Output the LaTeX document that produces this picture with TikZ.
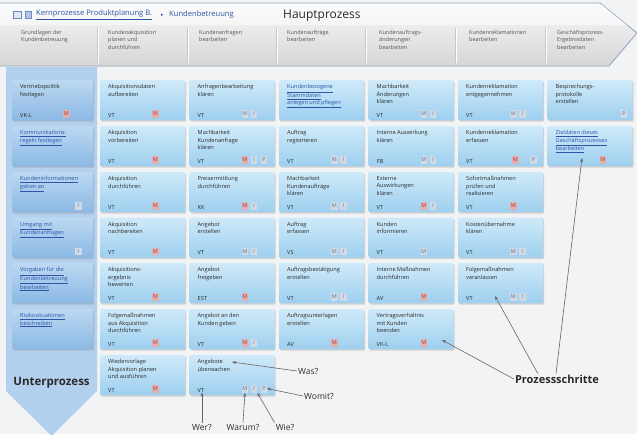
\documentclass[tikz,border=0pt]{standalone}
\usepackage{fontspec}
\setmainfont{Open Sans}
\newfontfamily\symfont{DejaVu Sans}
\newcommand\lnk[1]{\underline{#1}}
\usetikzlibrary{calc,shadows,arrows.meta}
\definecolor{bgc}{HTML}{F1F3F5}
\definecolor{boxT}{HTML}{CFEAF9}
\definecolor{boxB}{HTML}{9DCFEF}
\definecolor{lboxT}{HTML}{BCD8F2}
\definecolor{lboxB}{HTML}{8BB9E4}
\definecolor{arrowc}{HTML}{B3D0EE}
\definecolor{hdrT}{HTML}{F8F8F8}
\definecolor{hdrB}{HTML}{D6D6D6}
\definecolor{hdrline}{HTML}{8FA2BC}
\definecolor{txtc}{HTML}{2A2A2A}
\definecolor{htxtc}{HTML}{555555}
\definecolor{linkc}{HTML}{2E56A8}
\definecolor{mred}{HTML}{E5AFAF}
\definecolor{mredt}{HTML}{A83A3A}
\definecolor{igrey}{HTML}{D0D9E4}
\definecolor{igreyt}{HTML}{6E7390}
\definecolor{arrc}{HTML}{6E6262}
\newcommand\mkbox[6]{\node[#2] (#1) at (#3,#4) {};
  \node[#5] (#1t) at ($(#1.north west)+(8,4.5)$) {#6};}
\newcommand\mkrole[2]{\node[prole] (#1r) at ($(#1.south west)+(8,-3)$) {#2};}
\newcommand\mkicon[4]{\node[#3] (#1#2) at ($(#1.south west)+(#4,-2.5)$) {#2};}
\begin{document}
\begin{tikzpicture}[x=1pt,y=-1pt,
  pbox/.style={draw=none, anchor=north west, minimum width=85pt, minimum height=40pt,
    inner sep=0pt, top color=boxT, bottom color=boxB, rounded corners=1pt,
    drop shadow={opacity=0.3, shadow xshift=0.9pt, shadow yshift=-1.3pt}},
  lbox/.style={pbox, minimum width=81pt, top color=lboxT, bottom color=lboxB},
  ptxt/.style={anchor=north west, inner sep=0pt, align=left, text=txtc,
    font=\fontsize{5.6}{7.2}\selectfont},
  plink/.style={ptxt, text=linkc},
  prole/.style={anchor=south west, inner sep=0pt, text=txtc, font=\fontsize{5.6}{6}\selectfont},
  icR/.style={anchor=south west, inner sep=0pt, minimum width=6.5pt, minimum height=7.5pt,
    fill=mred, text=mredt, font=\fontsize{5.5}{6}\selectfont},
  icG/.style={icR, fill=igrey, text=igreyt},
  icI/.style={icG, font=\fontsize{5.5}{6}\selectfont\itshape},
  htxt/.style={anchor=north west, inner sep=0pt, align=left, text=htxtc,
    font=\fontsize{5.5}{7.4}\selectfont},
  anno/.style={inner sep=1pt, text=txtc, font=\fontsize{8.5}{10}\selectfont},
  big/.style={inner sep=1pt, text=txtc, font=\fontsize{11.5}{13}\selectfont\bfseries},
  arr/.style={draw=arrc, line width=0.6pt, -{Stealth[length=4pt,width=3pt]}}
]
\useasboundingbox (0,0) rectangle (637,434);
\fill[bgc] (0,0) rectangle (637,434);
% header chevron
\path[draw=hdrline, line width=0.8pt, top color=hdrT, bottom color=hdrB]
  (-1,3) -- (600,3) -- (637,33) -- (609,66) -- (-1,66) -- cycle;
\fill[white, opacity=0.5] (0,4) -- (601,4) -- (627,25) -- (0,25) -- cycle;
\foreach \sx in {97,187,276,365,455,545}{
  \draw[black!22, line width=0.6pt] (\sx,28) -- (\sx,63);
  \draw[white, line width=0.6pt] (\sx+0.8,28) -- (\sx+0.8,63);}
% breadcrumb
\node[draw=linkc!70, fill=linkc!15, minimum width=8pt, minimum height=7pt, inner sep=0pt] (ic1) at (17,15) {};
\node[draw=linkc!70, fill=linkc!35, minimum width=6pt, minimum height=7pt, inner sep=0pt] (ic2) at (28,15) {};
\node[anchor=west, inner sep=0pt, text=linkc, font=\fontsize{7.6}{8}\selectfont] (crumb1) at (36,15) {\lnk{Kernprozesse Produktplanung B.}};
\node[anchor=west, inner sep=0pt, text=linkc, font=\fontsize{5}{6}\symfont] (crumbsep) at (161,15) {▸};
\node[anchor=west, inner sep=0pt, text=linkc, font=\fontsize{7.6}{8}\selectfont] (crumb2) at (169,15) {Kundenbetreuung};
\node[anchor=west, inner sep=0pt, text=txtc, font=\fontsize{12}{14}\selectfont] (hp) at (283,16) {Hauptprozess};
% column headers
\node[htxt] (h1) at (21,30) {Grundlagen der\\Kundenbetreuung};
\node[htxt] (h2) at (108,30) {Kundenakquisition\\planen und\\durchführen};
\node[htxt] (h3) at (199,30) {Kundenanfragen\\bearbeiten};
\node[htxt] (h4) at (287,30) {Kundenaufträge\\bearbeiten};
\node[htxt] (h5) at (379,30) {Kundenauftrags-\\änderungen\\bearbeiten};
\node[htxt] (h6) at (469,30) {Kundenreklamationen\\bearbeiten};
\node[htxt] (h7) at (557,30) {Geschäftsprozess-\\Ergebnisdaten\\bearbeiten};
% left arrow
\path[fill=arrowc] (6,67) -- (97,67) -- (97,391) -- (51.5,436) -- (6,391) -- cycle;
\node[big] (unter) at (51.5,383) {Unterprozess};
% left column
\mkbox{L1}{lbox}{12}{80}{ptxt}{Vertriebspolitik\\festlegen}\mkrole{L1}{VK-L}\mkicon{L1}{M}{icR}{51}
\mkbox{L2}{lbox}{12}{126}{plink}{\lnk{Kommunikations-}\\\lnk{regeln festlegen}}
\mkbox{L3}{lbox}{12}{172}{plink}{\lnk{Kundeninformationen}\\\lnk{geben an}}\mkicon{L3}{I}{icI}{63}
\mkbox{L4}{lbox}{12}{217.5}{plink}{\lnk{Umgang mit}\\\lnk{Kundenanfragen}}\mkicon{L4}{I}{icI}{63}
\mkbox{L5}{lbox}{12}{263}{plink}{\lnk{Vorgaben für die}\\\lnk{Kundenbetreuung}\\\lnk{bearbeiten}}
\mkbox{L6}{lbox}{12}{309}{plink}{\lnk{Risikosituationen}\\\lnk{beschreiben}}
% column 2
\mkbox{c2r1}{pbox}{100}{80}{ptxt}{Akquisitionsdaten\\aufbereiten}\mkrole{c2r1}{VT}\mkicon{c2r1}{M}{icR}{52}
\mkbox{c2r2}{pbox}{100}{126}{ptxt}{Akquisition\\vorbereiten}\mkrole{c2r2}{VT}\mkicon{c2r2}{M}{icR}{52}
\mkbox{c2r3}{pbox}{100}{172}{ptxt}{Akquisition\\durchführen}\mkrole{c2r3}{VT}\mkicon{c2r3}{M}{icR}{52}
\mkbox{c2r4}{pbox}{100}{217.5}{ptxt}{Akquisition\\nachbereiten}\mkrole{c2r4}{VT}\mkicon{c2r4}{M}{icR}{52}
\mkbox{c2r5}{pbox}{100}{263}{ptxt}{Akquisitions-\\ergebnis\\bewerten}\mkrole{c2r5}{VT}\mkicon{c2r5}{M}{icR}{52}
\mkbox{c2r6}{pbox}{100}{309}{ptxt}{Folgemaßnahmen\\aus Akquisition\\durchführen}\mkrole{c2r6}{VT}\mkicon{c2r6}{M}{icR}{52}
\mkbox{c2r7}{pbox}{100}{355}{ptxt}{Wiedervorlage\\Akquisition planen\\und ausführen}\mkrole{c2r7}{VT}\mkicon{c2r7}{M}{icR}{52}
% column 3
\mkbox{c3r1}{pbox}{189.5}{80}{ptxt}{Anfragenbearbeitung\\klären}\mkrole{c3r1}{VT}\mkicon{c3r1}{M}{icG}{52}\mkicon{c3r1}{I}{icI}{61}
\mkbox{c3r2}{pbox}{189.5}{126}{ptxt}{Machbarkeit\\Kundenanfrage\\klären}\mkrole{c3r2}{VT}\mkicon{c3r2}{M}{icR}{52}\mkicon{c3r2}{I}{icI}{61}\mkicon{c3r2}{P}{icG}{71}
\mkbox{c3r3}{pbox}{189.5}{172}{ptxt}{Preisermittlung\\durchführen}\mkrole{c3r3}{KK}\mkicon{c3r3}{M}{icR}{52}\mkicon{c3r3}{I}{icI}{61}
\mkbox{c3r4}{pbox}{189.5}{217.5}{ptxt}{Angebot\\erstellen}\mkrole{c3r4}{VT}\mkicon{c3r4}{M}{icG}{52}\mkicon{c3r4}{I}{icI}{61}
\mkbox{c3r5}{pbox}{189.5}{263}{ptxt}{Angebot\\freigeben}\mkrole{c3r5}{EST}\mkicon{c3r5}{M}{icR}{52}
\mkbox{c3r6}{pbox}{189.5}{309}{ptxt}{Angebot an den\\Kunden geben}\mkrole{c3r6}{VT}\mkicon{c3r6}{M}{icR}{52}\mkicon{c3r6}{I}{icI}{61}
\mkbox{c3r7}{pbox}{189.5}{355}{ptxt}{Angebote\\überwachen}\mkrole{c3r7}{VT}\mkicon{c3r7}{M}{icG}{52}\mkicon{c3r7}{I}{icI}{61}\mkicon{c3r7}{P}{icG}{71}
% column 4
\mkbox{c4r1}{pbox}{279}{80}{plink}{\lnk{Kundenbezogene}\\\lnk{Stammdaten}\\\lnk{anlegen und pflegen}}
\mkbox{c4r2}{pbox}{279}{126}{ptxt}{Auftrag\\registrieren}\mkrole{c4r2}{VT}\mkicon{c4r2}{M}{icG}{52}\mkicon{c4r2}{I}{icI}{61}
\mkbox{c4r3}{pbox}{279}{172}{ptxt}{Machbarkeit\\Kundenaufträge\\klären}\mkrole{c4r3}{VT}\mkicon{c4r3}{M}{icG}{52}\mkicon{c4r3}{I}{icI}{61}
\mkbox{c4r4}{pbox}{279}{217.5}{ptxt}{Auftrag\\erfassen}\mkrole{c4r4}{VS}\mkicon{c4r4}{M}{icG}{52}\mkicon{c4r4}{I}{icI}{61}
\mkbox{c4r5}{pbox}{279}{263}{ptxt}{Auftragsbestätigung\\erstellen}\mkrole{c4r5}{VT}\mkicon{c4r5}{M}{icG}{52}\mkicon{c4r5}{I}{icI}{61}
\mkbox{c4r6}{pbox}{279}{309}{ptxt}{Auftragsunterlagen\\erstellen}\mkrole{c4r6}{AV}\mkicon{c4r6}{M}{icR}{52}
% column 5
\mkbox{c5r1}{pbox}{368.5}{80}{ptxt}{Machbarkeit\\Änderungen\\klären}\mkrole{c5r1}{VT}\mkicon{c5r1}{M}{icG}{52}\mkicon{c5r1}{I}{icI}{61}
\mkbox{c5r2}{pbox}{368.5}{126}{ptxt}{Interne Auswirkung\\klären}\mkrole{c5r2}{FB}\mkicon{c5r2}{M}{icG}{52}\mkicon{c5r2}{I}{icI}{61}
\mkbox{c5r3}{pbox}{368.5}{172}{ptxt}{Externe\\Auswirkungen\\klären}\mkrole{c5r3}{VT}\mkicon{c5r3}{M}{icR}{52}\mkicon{c5r3}{I}{icI}{61}
\mkbox{c5r4}{pbox}{368.5}{217.5}{ptxt}{Kunden\\informieren}\mkrole{c5r4}{VT}\mkicon{c5r4}{M}{icG}{52}
\mkbox{c5r5}{pbox}{368.5}{263}{ptxt}{Interne Maßnahmen\\durchführen}\mkrole{c5r5}{AV}\mkicon{c5r5}{M}{icR}{52}
\mkbox{c5r6}{pbox}{368.5}{309}{ptxt}{Vertragsverhältnis\\mit Kunden\\beenden}\mkrole{c5r6}{VK-L}\mkicon{c5r6}{M}{icR}{52}
% column 6
\mkbox{c6r1}{pbox}{458}{80}{ptxt}{Kundenreklamation\\entgegennehmen}\mkrole{c6r1}{VT}\mkicon{c6r1}{M}{icG}{52}\mkicon{c6r1}{I}{icI}{61}
\mkbox{c6r2}{pbox}{458}{126}{ptxt}{Kundenreklamation\\erfassen}\mkrole{c6r2}{VT}\mkicon{c6r2}{M}{icR}{54}\mkicon{c6r2}{P}{icG}{72}
\mkbox{c6r3}{pbox}{458}{172}{ptxt}{Sofortmaßnahmen\\prüfen und\\realisieren}\mkrole{c6r3}{VT}\mkicon{c6r3}{M}{icR}{52}
\mkbox{c6r4}{pbox}{458}{217.5}{ptxt}{Kostenübernahme\\klären}\mkrole{c6r4}{VT}\mkicon{c6r4}{M}{icG}{52}\mkicon{c6r4}{I}{icI}{61}
\mkbox{c6r5}{pbox}{458}{263}{ptxt}{Folgemaßnahmen\\veranlassen}\mkrole{c6r5}{VT}\mkicon{c6r5}{M}{icG}{52}\mkicon{c6r5}{I}{icI}{61}
% column 7
\mkbox{c7r1}{pbox}{547.5}{80}{ptxt}{Besprechungs-\\protokolle\\erstellen}\mkicon{c7r1}{P}{icG}{73}
\mkbox{c7r2}{pbox}{547.5}{126}{plink}{\lnk{Zieldaten dieses}\\\lnk{Geschäftsprozesses}\\\lnk{bearbeiten}}\mkicon{c7r2}{M}{icR}{52}
% annotations
\node[anno, anchor=west] (was) at (297,371) {Was?};
\node[anno, anchor=west] (womit) at (303,396) {Womit?};
\node[anno] (wer) at (202,427) {Wer?};
\node[anno] (warum) at (243,427) {Warum?};
\node[anno] (wie) at (285,427) {Wie?};
\node[big, font=\fontsize{11}{13}\selectfont\bfseries] (ps) at (557,379) {Prozessschritte};
\coordinate (wasT) at (232,362);
\coordinate (womitT) at (267,388.5);
\coordinate (ps1T) at (442,340);
\coordinate (ps2T) at (495,296);
\coordinate (ps3T) at (582,158);
\draw[arr] (was.west) -- (wasT);
\draw[arr] (womit.west) -- (womitT);
\draw[arr] (wer.north) -- (wer.north |- c3r7r.south);
\draw[arr] (warum.north) -- (c3r7M.south);
\draw[arr] (wie.north west) -- (c3r7I.south east);
\draw[arr] (ps.west) -- (ps1T);
\draw[arr] ($(ps.north west)+(24,0)$) -- (ps2T);
\draw[arr] ($(ps.north)+(-1,0)$) -- (ps3T);
\end{tikzpicture}
\end{document}
